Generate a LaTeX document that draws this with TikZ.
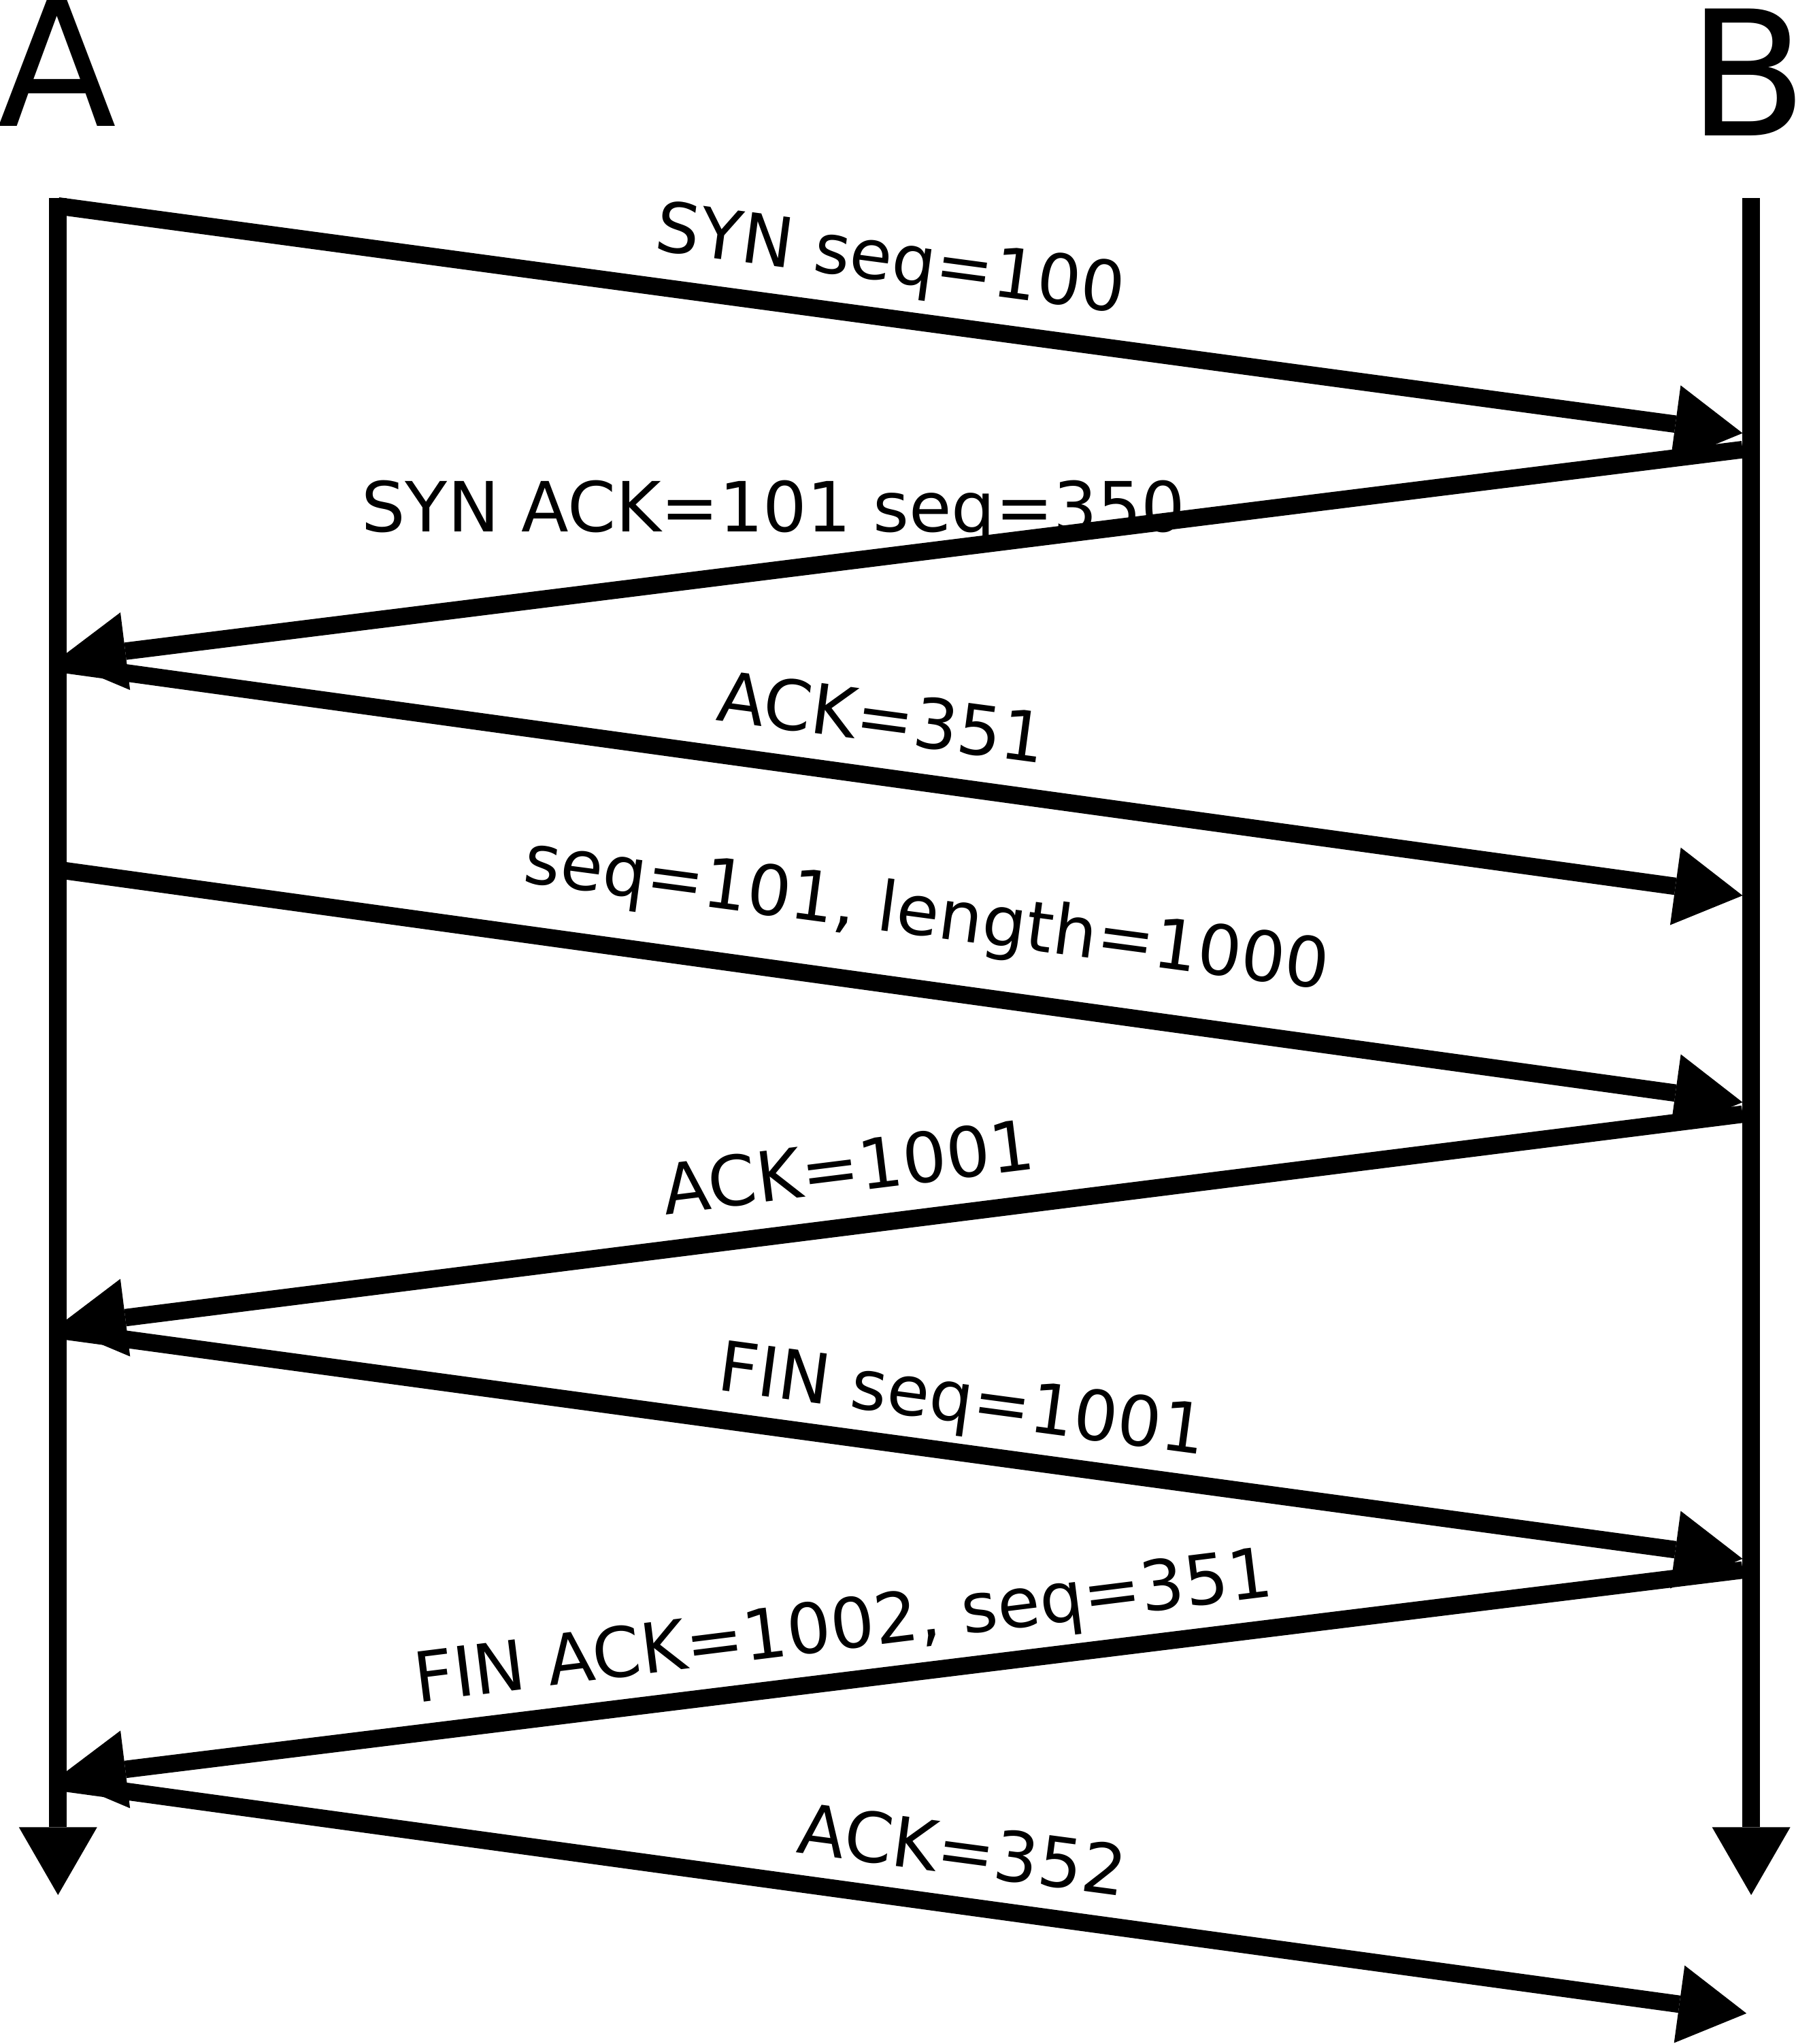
\documentclass[tikz,border=0pt]{standalone}
\usepackage{fontspec}
\setmainfont{DejaVu Sans}
\usepackage{tikz}
\usetikzlibrary{arrows.meta, positioning}

\begin{document}
\begin{tikzpicture}[
    msg/.style={line width=3.8pt, -{Triangle[length=5.2mm, width=6mm, line width=0pt]}},
    lifeline/.style={msg},
    lbl/.style={inner sep=0pt, anchor=base, font=\fontsize{15.1pt}{18pt}\selectfont},
    host/.style={inner sep=0pt, anchor=base, font=\fontsize{38pt}{44pt}\selectfont}
]
\useasboundingbox (0,0) rectangle (13.78,-15.68);

% Define the nodes
% Hosts
\node[host] (A) at (0.44, -0.97) {A};
\node[host] (B) at (13.41, -1.04) {B};

% Ends of the lifelines
\coordinate (Atop) at (0.445, -1.52);
\coordinate (Abot) at (0.445, -14.537);
\coordinate (Btop) at (13.436, -1.52);
\coordinate (Bbot) at (13.436, -14.537);

% Points where the segments leave and arrive
\coordinate (a1) at (0.445, -1.58);   \coordinate (b1) at (13.37, -3.323);
\coordinate (b2) at (13.37, -3.449);  \coordinate (a2) at (0.445, -5.06);
\coordinate (a3) at (0.445, -5.09);   \coordinate (b3) at (13.37, -6.87);
\coordinate (a4) at (0.445, -6.672);  \coordinate (b4) at (13.37, -8.456);
\coordinate (b5) at (13.37, -8.547);  \coordinate (a5) at (0.445, -10.173);
\coordinate (a6) at (0.445, -10.203); \coordinate (b6) at (13.37, -11.958);
\coordinate (b7) at (13.37, -12.044); \coordinate (a7) at (0.445, -13.637);
\coordinate (a8) at (0.445, -13.67);  \coordinate (b8) at (13.40, -15.445);

% Labels of the segments
\node[lbl, rotate=-7.6] (l1) at (6.81, -2.16) {SYN seq=100};
\node[lbl] (l2) at (5.935, -4.08) {SYN ACK=101 seq=350};
\node[lbl, rotate=-7.6] (l3) at (6.74, -5.69) {ACK=351};
\node[lbl, rotate=-7.6] (l4) at (7.09, -7.18) {seq=101, length=1000};
\node[lbl, rotate=7.1] (l5) at (6.53, -9.14) {ACK=1001};
\node[lbl, rotate=-7.6] (l6) at (7.36, -10.91) {FIN seq=1001};
\node[lbl, rotate=7.1] (l7) at (6.49, -12.65) {FIN ACK=1002, seq=351};
\node[lbl, rotate=-7.6] (l8) at (7.36, -14.38) {ACK=352};

% --- Draw the connections (Lines) ---

% Lifelines
\draw[lifeline] (Atop) -- (Abot);
\draw[lifeline] (Btop) -- (Bbot);

% Segments between A and B
\draw[msg] (a1) -- (b1);
\draw[msg] (b2) -- (a2);
\draw[msg] (a3) -- (b3);
\draw[msg] (a4) -- (b4);
\draw[msg] (b5) -- (a5);
\draw[msg] (a6) -- (b6);
\draw[msg] (b7) -- (a7);
\draw[msg] (a8) -- (b8);

\end{tikzpicture}
\end{document}
